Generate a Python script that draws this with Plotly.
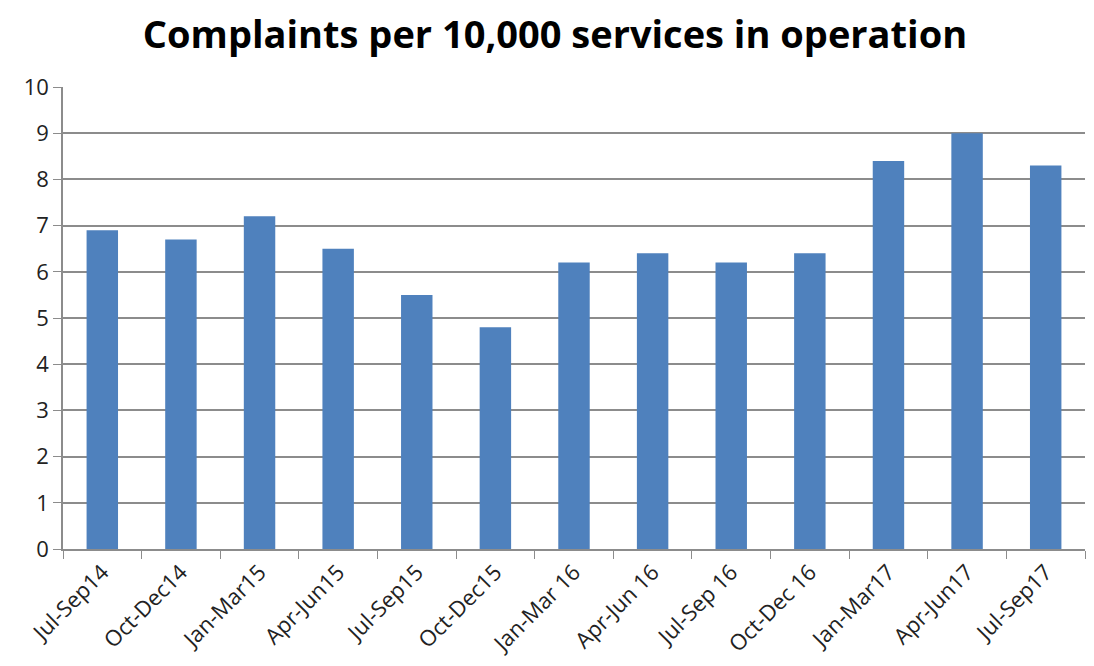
import plotly.graph_objects as go

categories = ["Jul-Sep14", "Oct-Dec14", "Jan-Mar15", "Apr-Jun15", "Jul-Sep15", "Oct-Dec15",
              "Jan-Mar 16", "Apr-Jun 16", "Jul-Sep 16", "Oct-Dec 16", "Jan-Mar17", "Apr-Jun17", "Jul-Sep17"]
values = [6.9, 6.7, 7.2, 6.5, 5.5, 4.8, 6.2, 6.4, 6.2, 6.4, 8.4, 9.0, 8.3]
y_ticks = list(range(0, 11))

fig = go.Figure(go.Bar(x=categories, y=values, marker=dict(color="#4f81bd", line=dict(width=0)), width=0.4))

grid = "#8c8c8c"
fig.update_layout(
    width=1094, height=666,
    margin=dict(l=55, r=17, t=79, b=125),
    paper_bgcolor="white", plot_bgcolor="white",
    title=dict(text="<b>Complaints per 10,000 services in operation</b>", x=0.5, xanchor="center",
               y=0.96, yanchor="middle", font=dict(family="Open Sans", size=38, color="black")),
    font=dict(family="Open Sans", color="#222"),
    showlegend=False,
)
fig.update_xaxes(showline=True, linecolor=grid, linewidth=1.5, ticks="outside", tickson="boundaries",
                 ticklen=8, tickcolor=grid, tickangle=-45, tickfont=dict(size=22), showgrid=False)
fig.update_yaxes(range=[0, 10], tickvals=y_ticks, showline=True, linecolor=grid, linewidth=1.5,
                 ticks="outside", ticklen=8, tickcolor=grid, gridcolor=grid, gridwidth=1.5,
                 tickfont=dict(size=22), zeroline=False)
fig.write_html("out.html")
